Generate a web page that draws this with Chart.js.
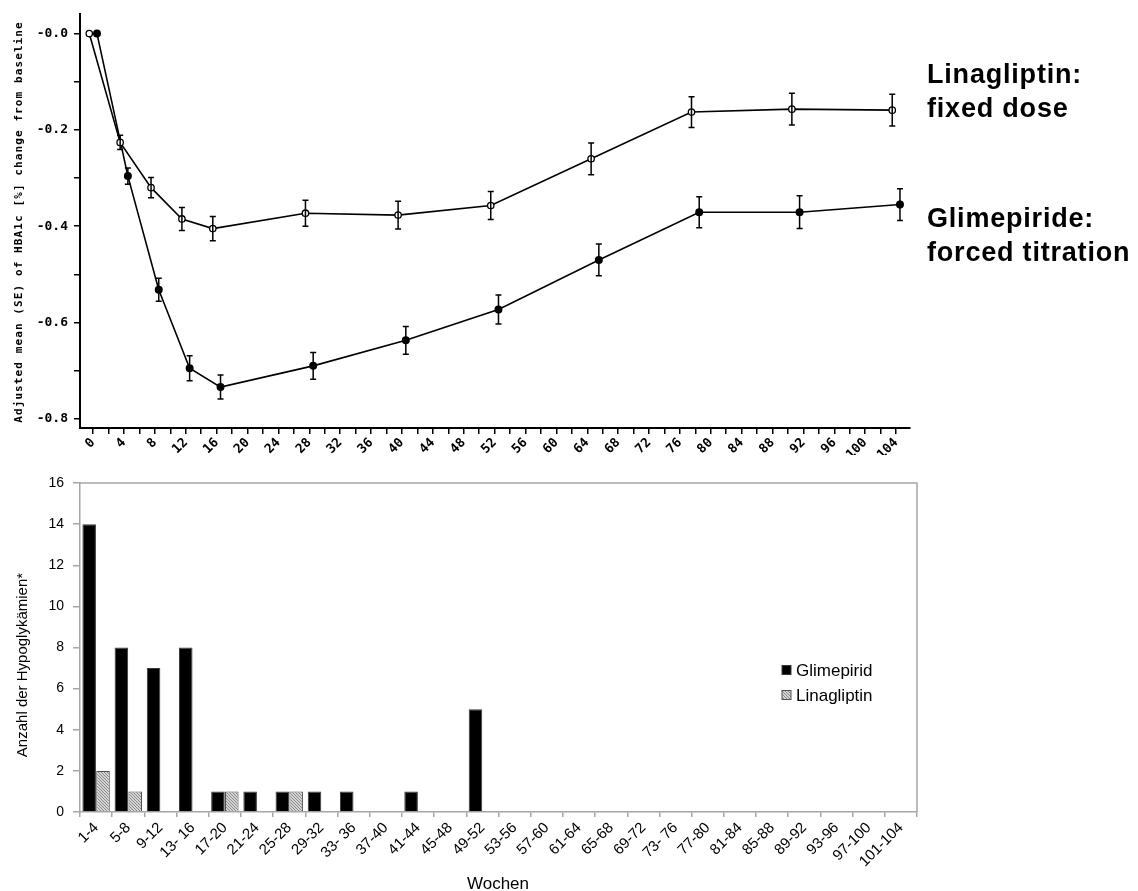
<!DOCTYPE html>
<html>
<head>
<meta charset="utf-8">
<script src="https://cdn.jsdelivr.net/npm/chart.js@4.4.0/dist/chart.umd.min.js"></script>
<style>
  body { margin: 0; background: #fff; width: 1138px; height: 891px; position: relative; overflow: hidden; font-family: "Liberation Sans", Arial, sans-serif; color: #000; }
  #topWrap { position: absolute; left: 0; top: 0; width: 1138px; height: 455px; }
  #bottomWrap { position: absolute; left: 0; top: 455px; width: 1138px; height: 436px; }
  .side { position: absolute; left: 927px; font-weight: bold; font-size: 27px; line-height: 34px; letter-spacing: 0.8px; white-space: nowrap; }
  .rot { position: absolute; white-space: nowrap; transform: translate(-50%, -50%) rotate(-90deg); }
  #topYTitle { left: 18px; top: 222px; font: bold 11px "DejaVu Sans Mono", monospace; letter-spacing: 1.1px; }
  #bottomYTitle { left: 21px; top: 665px; font-size: 15px; }
  #xTitle { position: absolute; left: 498px; top: 875px; transform: translateX(-50%); font-size: 17px; line-height: 17px; }
</style>
</head>
<body>
<div id="topWrap"><canvas id="top"></canvas></div>
<div id="bottomWrap"><canvas id="bottom"></canvas></div>
<div class="side" style="top:57px">Linagliptin:<br>fixed dose</div>
<div class="side" style="top:201px">Glimepiride:<br>forced titration</div>
<div class="rot" id="topYTitle">Adjusted mean (SE) of HBA1c [%] change from baseline</div>
<div class="rot" id="bottomYTitle">Anzahl der Hypoglykämien*</div>
<div id="xTitle">Wochen</div>
<script>
// top panel: HbA1c change over time
const weeks = [0, 4, 8, 12, 16, 28, 40, 52, 65, 78, 91, 104];
const linaMean = [0, -0.226, -0.32, -0.385, -0.405, -0.373, -0.377, -0.357, -0.26, -0.163, -0.157, -0.159];
const linaSE = [0, 0.015, 0.021, 0.024, 0.025, 0.027, 0.029, 0.029, 0.033, 0.032, 0.033, 0.033];
const glimMean = [0, -0.296, -0.532, -0.695, -0.734, -0.69, -0.637, -0.573, -0.47, -0.371, -0.371, -0.355];
const glimSE = [0, 0.017, 0.024, 0.026, 0.025, 0.028, 0.029, 0.03, 0.033, 0.032, 0.034, 0.033];
const weekTicks = [0, 4, 8, 12, 16, 20, 24, 28, 32, 36, 40, 44, 48, 52, 56, 60, 64, 68, 72, 76, 80, 84, 88, 92, 96, 100, 104];
const changeTicks = [0, -0.2, -0.4, -0.6, -0.8];

// bottom panel: hypoglycaemia counts
const weekBins = ["1-4", "5-8", "9-12", "13- 16", "17-20", "21-24", "25-28", "29-32", "33- 36", "37-40", "41-44", "45-48", "49-52",
  "53-56", "57-60", "61-64", "65-68", "69-72", "73- 76", "77-80", "81-84", "85-88", "89-92", "93-96", "97-100", "101-104"];
const glimHypo = [14, 8, 7, 8, 1, 1, 1, 1, 1, 0, 1, 0, 5, 0, 0, 0, 0, 0, 0, 0, 0, 0, 0, 0, 0, 0];
const linaHypo = [2, 1, 0, 0, 1, 0, 1, 0, 0, 0, 0, 0, 0, 0, 0, 0, 0, 0, 0, 0, 0, 0, 0, 0, 0, 0];

Chart.defaults.font.family = '"Liberation Sans", Arial, sans-serif';
Chart.defaults.color = "#000";
Chart.defaults.animation = false;

const mono = { family: '"DejaVu Sans Mono", monospace', weight: "bold", size: 13 };

// adds the half-steps so minor tick marks show between labels
function withMinor(list) {
  const out = [];
  list.forEach((v, i) => {
    out.push(v);
    if (i < list.length - 1) out.push((v + list[i + 1]) / 2);
  });
  return out.map((value) => ({ value }));
}
const isMajor = (list, v) => list.some((t) => Math.abs(t - v) < 1e-9);

const errorBars = {
  id: "errorBars",
  afterDatasetsDraw(chart) {
    const { ctx, scales } = chart;
    ctx.save();
    ctx.strokeStyle = "#000";
    ctx.lineWidth = 1.5;
    chart.data.datasets.forEach((ds) => {
      ds.data.forEach((p, i) => {
        const se = ds.se[i];
        if (!se) return;
        const px = scales.x.getPixelForValue(p.x);
        const hi = scales.y.getPixelForValue(p.y + se);
        const lo = scales.y.getPixelForValue(p.y - se);
        ctx.beginPath();
        ctx.moveTo(px, hi); ctx.lineTo(px, lo);
        ctx.moveTo(px - 3, hi); ctx.lineTo(px + 3, hi);
        ctx.moveTo(px - 3, lo); ctx.lineTo(px + 3, lo);
        ctx.stroke();
      });
    });
    ctx.restore();
  },
};

new Chart(document.getElementById("top"), {
  type: "line",
  data: {
    datasets: [
      {
        label: "Linagliptin",
        data: weeks.map((w, i) => ({ x: w - 0.5, y: linaMean[i] })),
        se: linaSE,
        borderColor: "#000",
        borderWidth: 1.6,
        pointRadius: 3.2,
        pointBorderWidth: 1.3,
        pointBackgroundColor: "#fff",
        pointBorderColor: "#000",
      },
      {
        label: "Glimepiride",
        data: weeks.map((w, i) => ({ x: w + 0.5, y: glimMean[i] })),
        se: glimSE,
        borderColor: "#000",
        borderWidth: 1.6,
        pointRadius: 3.2,
        pointBackgroundColor: "#000",
        pointBorderColor: "#000",
      },
    ],
  },
  options: {
    responsive: true,
    maintainAspectRatio: false,
    layout: { padding: { top: 12, right: 228, left: 0, bottom: 0 } },
    plugins: { legend: { display: false }, tooltip: { enabled: false } },
    scales: {
      x: {
        type: "linear",
        min: -1.7,
        max: 105.8,
        afterBuildTicks: (s) => { s.ticks = withMinor(weekTicks); },
        afterFit: (s) => { s.height = 27; },
        ticks: {
          font: mono,
          maxRotation: 45,
          minRotation: 45,
          padding: 1,
          autoSkip: false,
          callback: (v) => (isMajor(weekTicks, v) ? String(v) : ""),
        },
        grid: { drawOnChartArea: false, tickLength: 6, color: "#000", lineWidth: 1.5 },
        border: { color: "#000", width: 2 },
      },
      y: {
        min: -0.819,
        max: 0.041,
        afterBuildTicks: (s) => { s.ticks = withMinor(changeTicks); },
        afterFit: (s) => { s.width = 80; },
        ticks: {
          font: mono,
          padding: 6,
          autoSkip: false,
          callback: (v) => (isMajor(changeTicks, v) ? (Math.abs(v) < 1e-9 ? "-0.0" : v.toFixed(1)) : ""),
        },
        grid: { drawOnChartArea: false, tickLength: 6, color: "#000", lineWidth: 1.5 },
        border: { color: "#000", width: 2 },
      },
    },
  },
  plugins: [errorBars],
});

// hatched fill for Linagliptin
function hatch() {
  const c = document.createElement("canvas");
  c.width = 3; c.height = 3;
  const g = c.getContext("2d");
  g.fillStyle = "#d4d4d4";
  g.fillRect(0, 0, 3, 3);
  g.fillStyle = "#8a8a8a";
  g.fillRect(0, 0, 1, 1);
  g.fillRect(1, 1, 1, 1);
  g.fillRect(2, 2, 1, 1);
  return g.createPattern(c, "repeat");
}

const frameAndLegend = {
  id: "frameAndLegend",
  afterDraw(chart) {
    const { ctx, chartArea: a } = chart;
    ctx.save();
    ctx.strokeStyle = "#a6a6a6";
    ctx.lineWidth = 1.5;
    ctx.beginPath();
    ctx.moveTo(a.left, a.top); ctx.lineTo(a.right, a.top); ctx.lineTo(a.right, a.bottom);
    ctx.stroke();
    ctx.font = '17px "Liberation Sans", Arial, sans-serif';
    ctx.textBaseline = "middle";
    chart.data.datasets.forEach((ds, i) => {
      const y = 215 + i * 25;
      ctx.fillStyle = ds.backgroundColor;
      ctx.fillRect(782, y - 4.5, 9, 9);
      ctx.strokeStyle = ds.borderColor;
      ctx.lineWidth = 1;
      ctx.strokeRect(782, y - 4.5, 9, 9);
      ctx.fillStyle = "#000";
      ctx.fillText(ds.label, 796, y + 1);
    });
    ctx.restore();
  },
};

new Chart(document.getElementById("bottom"), {
  type: "bar",
  data: {
    labels: weekBins,
    datasets: [
      {
        label: "Glimepirid",
        data: glimHypo,
        backgroundColor: "#000",
        borderColor: "#3a3a3a",
        borderWidth: (c) => (c.raw ? 1 : 0),
      },
      {
        label: "Linagliptin",
        data: linaHypo,
        backgroundColor: hatch(),
        borderColor: "#505050",
        borderWidth: (c) => (c.raw ? 1 : 0),
      },
    ],
  },
  options: {
    responsive: true,
    maintainAspectRatio: false,
    layout: { padding: { top: 28, right: 221, left: 0, bottom: 0 } },
    datasets: { bar: { categoryPercentage: 0.86, barPercentage: 0.98 } },
    plugins: { legend: { display: false }, tooltip: { enabled: false } },
    scales: {
      x: {
        afterFit: (s) => { s.height = 79; },
        ticks: { font: { size: 15 }, maxRotation: 45, minRotation: 45, padding: 2, autoSkip: false },
        grid: { drawOnChartArea: false, tickLength: 5, color: "#a6a6a6", lineWidth: 1.5, offset: true },
        border: { color: "#a6a6a6", width: 1.5 },
      },
      y: {
        min: 0,
        max: 16,
        afterFit: (s) => { s.width = 80; },
        ticks: { stepSize: 2, font: { size: 14 }, padding: 9 },
        grid: { drawOnChartArea: false, tickLength: 7, color: "#a6a6a6", lineWidth: 1.5 },
        border: { color: "#a6a6a6", width: 1.5 },
      },
    },
  },
  plugins: [frameAndLegend],
});
</script>
</body>
</html>
